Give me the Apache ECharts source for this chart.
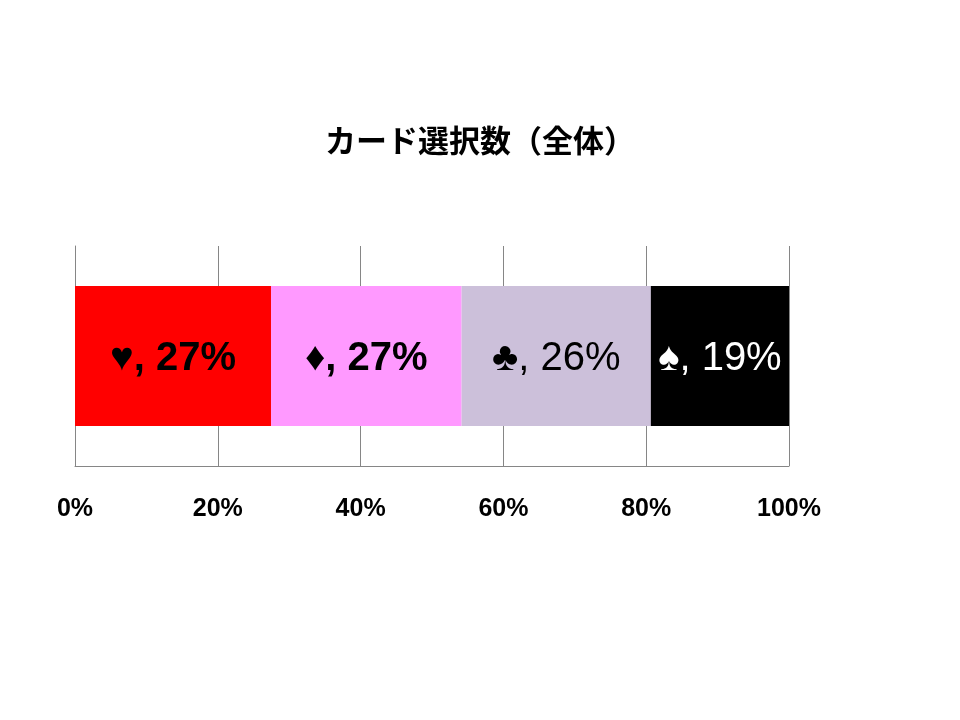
<!DOCTYPE html>
<html>
<head>
<meta charset="utf-8">
<script src="https://cdn.jsdelivr.net/npm/echarts@6/dist/echarts.min.js"></script>
<style>html,body{margin:0;padding:0;background:#fff}#c{width:960px;height:720px}</style>
</head>
<body>
<div id="c"></div>
<script>
const title = 'カード選択数（全体）';
const category = ['全体'];
const suits = ['♥', '♦', '♣', '♠'];
const shares = [27.45, 26.7, 26.5, 19.35];
const shareLabels = ['27%', '27%', '26%', '19%'];
const colors = ['#FF0000', '#FF99FF', '#CCC0DA', '#000000'];
const labelColors = ['#000', '#000', '#000', '#fff'];
const labelWeights = ['bold', 'bold', 'normal', 'normal'];
const xTicks = [0, 20, 40, 60, 80, 100];

const chart = echarts.init(document.getElementById('c'));
chart.setOption({
  backgroundColor: '#fff',
  animation: false,
  title: {
    text: title, left: 'center', top: 120,
    textStyle: { fontFamily: 'Noto Sans CJK JP', fontSize: 31, fontWeight: 'bold', color: '#000' }
  },
  grid: { left: 75, right: 171, top: 246, bottom: 254 },
  xAxis: {
    type: 'value', min: xTicks[0], max: xTicks[xTicks.length - 1], interval: 20,
    axisLine: { show: true, lineStyle: { color: '#868686', width: 1 } },
    axisTick: { show: false },
    splitLine: { show: true, lineStyle: { color: '#868686', width: 1 } },
    axisLabel: {
      margin: 31, formatter: v => v + '%',
      fontFamily: 'Liberation Sans', fontWeight: 'bold', fontSize: 25, color: '#000'
    }
  },
  yAxis: {
    type: 'category', data: category,
    axisLine: { show: true, lineStyle: { color: '#868686', width: 1 } },
    axisTick: { show: false }, axisLabel: { show: false }
  },
  series: suits.map((s, i) => ({
    type: 'bar', stack: 'all', name: s,
    data: [shares[i]], barWidth: 140,
    itemStyle: { color: colors[i] },
    label: {
      show: true, position: 'inside', offset: [0, 3],
      formatter: s + ', ' + shareLabels[i],
      fontFamily: 'Liberation Sans', fontSize: 40, fontWeight: labelWeights[i], color: labelColors[i]
    }
  }))
});
</script>
</body>
</html>
